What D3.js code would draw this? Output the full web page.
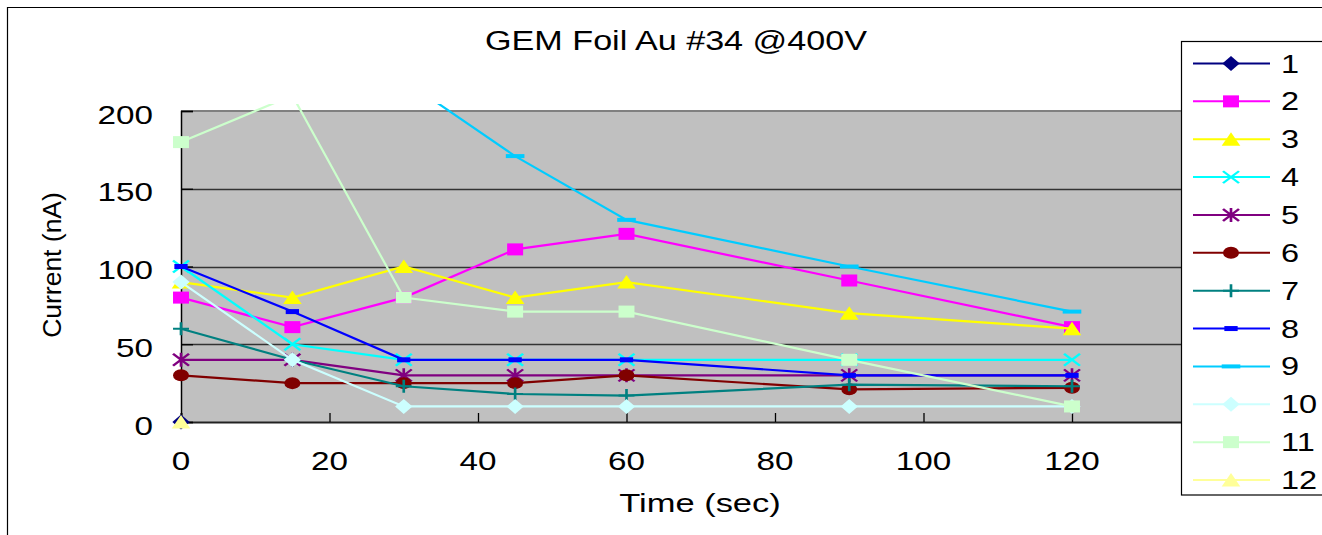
<!DOCTYPE html>
<html>
<head>
<meta charset="utf-8">
<script src="https://cdn.jsdelivr.net/npm/d3@7"></script>
<style>
  html, body { margin: 0; padding: 0; background: #fff; }
  svg { display: block; }
  text { font-family: "Liberation Sans", Arial, sans-serif; fill: #000; }
</style>
</head>
<body>
<svg id="chart" width="1322" height="535"></svg>
<script>
// ---- data ----
const times = [0, 15, 30, 45, 60, 90, 120];
const seriesNames = ["1","2","3","4","5","6","7","8","9","10","11","12"];
const s1  = [0, null, null, null, null, null, null];
const s2  = [80, 61, 80, 111, 121, 91, 61];
const s3  = [90, 80, 100, 80, 90, 70, 60];
const s4  = [100, 50, 40, 40, 40, 40, 40];
const s5  = [40, 40, 30, 30, 30, 30, 30];
const s6  = [30, 25, 25, 25, 30, 21, 22];
const s7  = [60, 40, 23, 18, 17, 24, 23];
const s8  = [100, 71, 40, 40, 40, 30, 30];
const s9  = [null, null, 220, 171, 130, 100, 71];
const s10 = [90, 40, 10, 10, 10, 10, 10];
const s11 = [180, 210, 80, 71, 71, 40, 10];
const s12 = [0, null, null, null, null, null, null];
const seriesValues = [s1, s2, s3, s4, s5, s6, s7, s8, s9, s10, s11, s12];
const xTicks = [0, 20, 40, 60, 80, 100, 120, 140];
const yTicks = [0, 50, 100, 150, 200];
const titleText = "GEM Foil Au #34 @400V";
const xTitle = "Time (sec)";
const yTitle = "Current (nA)";

// ---- styles ----
const colors = ["#000080","#FF00FF","#FFFF00","#00FFFF","#800080","#800000",
                "#008080","#0000FF","#00CCFF","#CCFFFF","#CCFFCC","#FFFF99"];
const markers = ["diamond","square","triangle","x","star","circle",
                 "plus","dashS","dashL","diamond","square","triangle"];
const SX = 1.33; // horizontal stretch of the original rendering

const svg = d3.select("#chart");
const W = 1322, H = 535;
const plot = {left: 181, top: 111, bottom: 422, right: 1220.5};

const x = d3.scaleLinear().domain([0, 140]).range([plot.left, plot.right]);
const y = d3.scaleLinear().domain([0, 200]).range([plot.bottom, plot.top]);

// outer chart frame
svg.append("rect").attr("x", 0).attr("y", 0).attr("width", W).attr("height", H).attr("fill", "#fff");
svg.append("line").attr("x1", 7.5).attr("x2", 7.5).attr("y1", 7).attr("y2", H).attr("stroke", "#000").attr("stroke-width", 1.2);
svg.append("line").attr("x1", 7).attr("x2", W).attr("y1", 7.5).attr("y2", 7.5).attr("stroke", "#000").attr("stroke-width", 1.2);

// plot area
svg.append("rect").attr("x", plot.left).attr("y", plot.top)
  .attr("width", plot.right - plot.left).attr("height", plot.bottom - plot.top)
  .attr("fill", "#C0C0C0");

// gridlines
svg.append("g").selectAll("line").data(yTicks.filter(v => v > 0 && v < 200)).join("line")
  .attr("x1", plot.left).attr("x2", plot.right)
  .attr("y1", d => Math.round(y(d)) + 0.5).attr("y2", d => Math.round(y(d)) + 0.5)
  .attr("stroke", "#333").attr("stroke-width", 1.3);

// top border of plot
svg.append("line").attr("x1", plot.left).attr("x2", plot.right)
  .attr("y1", plot.top).attr("y2", plot.top).attr("stroke", "#808080").attr("stroke-width", 2);

// axes
const xAxis = d3.axisBottom(x).tickValues(xTicks).tickSize(-9).tickPadding(0).tickFormat("");
const gx = svg.append("g").attr("transform", `translate(0,${plot.bottom})`).call(xAxis);
gx.select(".domain").attr("stroke", "#222").attr("stroke-width", 2);
gx.selectAll(".tick line").attr("stroke", "#000").attr("stroke-width", 1.3);

const yAxis = d3.axisLeft(y).tickValues(yTicks).tickSize(-12).tickPadding(0).tickFormat("");
const gy = svg.append("g").attr("transform", `translate(${plot.left},0)`).call(yAxis);
gy.select(".domain").attr("stroke", "#000").attr("stroke-width", 1.5);
gy.selectAll(".tick line").attr("stroke", "#000").attr("stroke-width", 1.3);

// tick labels (stretched horizontally like the original)
svg.append("g").selectAll("text").data(xTicks).join("text")
  .attr("transform", d => `translate(${x(d)},470) scale(${SX},1)`)
  .attr("text-anchor", "middle").attr("font-size", 25).text(d => d);
svg.append("g").selectAll("text").data(yTicks).join("text")
  .attr("transform", d => `translate(153,${y(d) + 12.5}) scale(${SX},1)`)
  .attr("text-anchor", "end").attr("font-size", 25).text(d => d);

// titles
svg.append("text").attr("transform", `translate(676,50) scale(1.22,1)`)
  .attr("text-anchor", "middle").attr("font-size", 28).text(titleText);
svg.append("text").attr("transform", `translate(700,512) scale(1.38,1)`)
  .attr("text-anchor", "middle").attr("font-size", 25).text(xTitle);
svg.append("text").attr("transform", `translate(61,265) rotate(-90) scale(1.06,1.05)`)
  .attr("text-anchor", "middle").attr("font-size", 25).text(yTitle);

// marker drawing
function drawMarker(g, type, color) {
  const s = g.append("g").attr("transform", `scale(${SX},1)`);
  switch (type) {
    case "diamond":
      s.append("path").attr("d", "M0,-7.5L6.5,0L0,7.5L-6.5,0Z").attr("fill", color); break;
    case "square":
      s.append("rect").attr("x", -6).attr("y", -6).attr("width", 12).attr("height", 12).attr("fill", color); break;
    case "triangle":
      s.append("path").attr("d", "M0,-7L7,6.5L-7,6.5Z").attr("fill", color); break;
    case "circle":
      s.append("ellipse").attr("rx", 6).attr("ry", 6).attr("fill", color); break;
    case "x":
      s.append("path").attr("d", "M-6,-6L6,6M-6,6L6,-6").attr("stroke", color).attr("stroke-width", 2).attr("fill", "none"); break;
    case "star":
      s.append("path").attr("d", "M-6,-6L6,6M-6,6L6,-6M0,-7L0,7").attr("stroke", color).attr("stroke-width", 2).attr("fill", "none"); break;
    case "plus":
      s.append("path").attr("d", "M-6,0L6,0M0,-6.5L0,6.5").attr("stroke", color).attr("stroke-width", 2).attr("fill", "none"); break;
    case "dashS":
      s.append("rect").attr("x", -5).attr("y", -2.5).attr("width", 10).attr("height", 5).attr("fill", color); break;
    case "dashL":
      s.append("rect").attr("x", -7).attr("y", -2).attr("width", 14).attr("height", 4).attr("fill", color); break;
  }
}

// clip for series
svg.append("clipPath").attr("id", "clip").append("rect")
  .attr("x", 0).attr("y", 104).attr("width", 1181).attr("height", H - 104);

const line = d3.line().defined(d => d.v != null).x(d => x(d.t)).y(d => y(d.v));
const seriesG = svg.append("g").attr("clip-path", "url(#clip)");
seriesValues.forEach((vals, i) => {
  const pts = times.map((t, j) => ({t, v: vals[j]}));
  const g = seriesG.append("g");
  g.append("path").datum(pts).attr("d", line)
    .attr("fill", "none").attr("stroke", colors[i]).attr("stroke-width", 2.2);
  pts.filter(d => d.v != null).forEach(d => {
    const mg = g.append("g").attr("transform", `translate(${x(d.t)},${y(d.v)})`);
    drawMarker(mg, markers[i], colors[i]);
  });
});

// legend
const lg = svg.append("g");
lg.append("rect").attr("x", 1181.5).attr("y", 41.5).attr("width", 200).attr("height", 453.5)
  .attr("fill", "#fff").attr("stroke", "#000").attr("stroke-width", 1.2);
const legY = d3.scalePoint().domain(seriesNames).range([63.5, 480]);
seriesNames.forEach((name, i) => {
  const yy = legY(name);
  lg.append("line").attr("x1", 1193).attr("x2", 1270).attr("y1", yy).attr("y2", yy)
    .attr("stroke", colors[i]).attr("stroke-width", 2);
  const mg = lg.append("g").attr("transform", `translate(1231,${yy})`);
  drawMarker(mg, markers[i], colors[i]);
  lg.append("text").attr("transform", `translate(1281,${yy + 9}) scale(1.3,1)`)
    .attr("font-size", 25).text(name);
});
</script>
</body>
</html>
